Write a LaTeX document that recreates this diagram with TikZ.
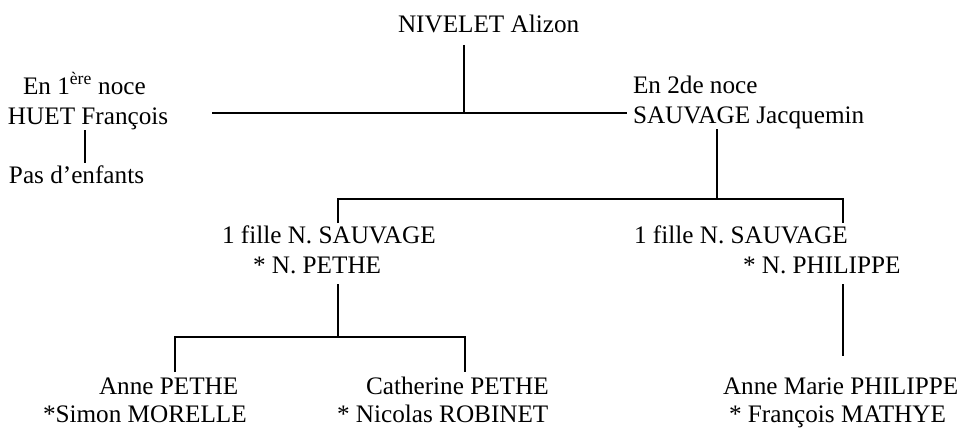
\documentclass[tikz,border=0pt]{standalone}
\usepackage{fontspec}
\setmainfont{Liberation Serif}
\usepackage{tikz}
\usetikzlibrary{calc}
\tikzstyle{person} = [draw=none, outer sep=0, inner sep=0, anchor=base west,
    text height=18, text depth=6, font=\fontsize{25.2}{30}\selectfont]
\tikzstyle{link} = [line width=1.3, draw=black]

\begin{document}
\begin{tikzpicture}[x=1pt, y=-1pt]
\useasboundingbox (0,0) rectangle (960,428);

%%% first generation
\node[person] (nivelet) at (398,33) {NIVELET Alizon};
\node[person] (noce1) at (23,94) {En 1\textsuperscript{ère} noce};
\node[person] (huet) at (8,124) {HUET François};
\node[person] (pas) at (9,183) {Pas d’enfants};
\node[person] (noce2) at (633,93) {En 2de noce};
\node[person] (sauvage) at (633,123) {SAUVAGE Jacquemin};

%%% daughters
\node[person] (fille1) at (222,243) {1 fille N. SAUVAGE};
\node[person] (pethe) at (253,273) {* N. PETHE};
\node[person] (fille2) at (634,243) {1 fille N. SAUVAGE};
\node[person] (philippe) at (743,273) {* N. PHILIPPE};

%%% grandchildren
\node[person] (anne) at (99,394) {Anne PETHE};
\node[person] (morelle) at (43,422) {*Simon MORELLE};
\node[person] (catherine) at (366,394) {Catherine PETHE};
\node[person] (robinet) at (337,422) {* Nicolas ROBINET};
\node[person] (annemarie) at (723,394) {Anne Marie PHILIPPE};
\node[person] (mathye) at (729,422) {* François MATHYE};

%%% junctions
\coordinate (mariage) at (464,113);
\coordinate (noce) at (212,113);
\coordinate (sans) at (85,130);
\coordinate (enfants) at (717,199);
\coordinate (branche1) at (338,199);
\coordinate (branche2) at (843,199);
\coordinate (petits) at (338,337);
\coordinate (petit1) at (175,337);
\coordinate (petit2) at (465,337);

%%% lines
\draw[link] ([yshift=-6]nivelet.south -| mariage) -- (mariage);
\draw[link] (noce) -- ([xshift=-6]sauvage.west |- mariage);
\draw[link] (huet.south -| sans) -- ([yshift=2]pas.north -| sans);
\draw[link] (sauvage.south -| enfants) -- (enfants);
\draw[link] ([yshift=2]fille1.north -| branche1) -- (branche1) -- (branche2)
    -- ([yshift=2]fille2.north -| branche2);
\draw[link] ([yshift=-5]pethe.south -| petits) -- (petits);
\draw[link] ([yshift=4]anne.north -| petit1) -- (petit1) -- (petit2)
    -- ([yshift=4]catherine.north -| petit2);
\draw[link] ([yshift=-5]philippe.south -| branche2) -- ([yshift=20]annemarie.north -| branche2);

\end{tikzpicture}
\end{document}
